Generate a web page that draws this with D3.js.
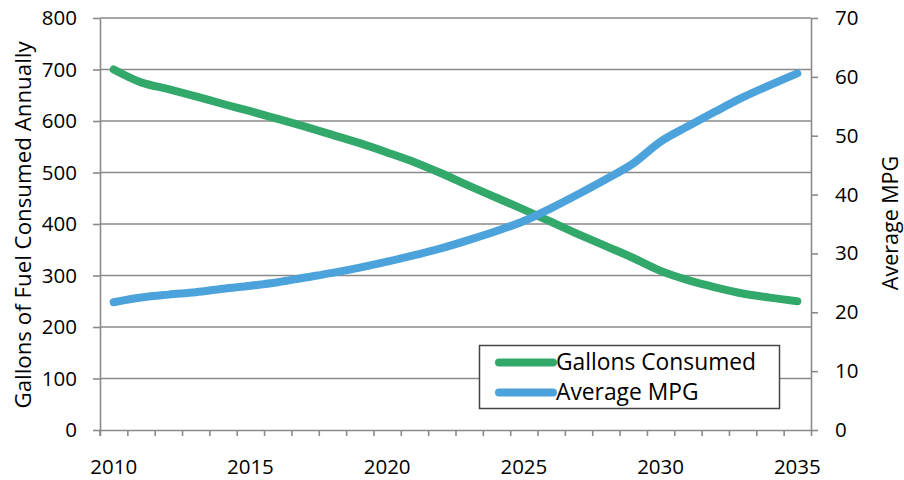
<!DOCTYPE html>
<html>
<head>
<meta charset="utf-8">
<script src="https://cdn.jsdelivr.net/npm/d3@7"></script>
<style>
  body { margin: 0; background: #fff; }
  svg { display: block; }
  text { font-family: "Open Sans", sans-serif; fill: #000; }
</style>
</head>
<body>
<svg id="chart" width="904" height="480"></svg>
<script>
// Fuel use vs. fleet fuel economy, 2010–2035
const years = [2010, 2011, 2012, 2013, 2014, 2015, 2016, 2017, 2018, 2019, 2020, 2021, 2022,
               2023, 2024, 2025, 2026, 2027, 2028, 2029, 2030, 2031, 2032, 2033, 2034, 2035];
const gallons = [700, 675, 662, 648, 633, 619, 604, 589, 573, 557, 539, 520, 498,
                 474, 451, 428, 404, 380, 357, 334, 309, 291, 277, 265, 257, 250];
const mpg = [21.7, 22.5, 23.0, 23.4, 24.0, 24.5, 25.1, 25.9, 26.7, 27.6, 28.6, 29.7, 30.9,
             32.3, 33.8, 35.5, 37.7, 40.1, 42.6, 45.3, 49.0, 51.6, 54.1, 56.5, 58.6, 60.6];
const gallonTicks = [0, 100, 200, 300, 400, 500, 600, 700, 800];
const mpgTicks = [0, 10, 20, 30, 40, 50, 60, 70];
const yearLabels = [2010, 2015, 2020, 2025, 2030, 2035];
const seriesNames = ["Gallons Consumed", "Average MPG"];
const seriesColors = ["#32a86b", "#4ca3db"];

const svg = d3.select("#chart");
const plot = { left: 100, right: 811, top: 18, bottom: 430 };
const axisColor = "#8a8a8a";

const x = d3.scaleBand().domain(years).range([plot.left, plot.right]);
const xEdge = d3.scaleLinear().domain([0, years.length]).range([plot.left, plot.right]);
const yL = d3.scaleLinear().domain([0, 800]).range([plot.bottom, plot.top]);
const yR = d3.scaleLinear().domain([0, 70]).range([plot.bottom, plot.top]);
const cx = d => x(d) + x.bandwidth() / 2;

// horizontal gridlines
svg.append("g")
  .selectAll("line")
  .data(gallonTicks.filter(v => v > 0))
  .join("line")
  .attr("x1", plot.left).attr("x2", plot.right)
  .attr("y1", d => yL(d)).attr("y2", d => yL(d))
  .attr("stroke", axisColor).attr("stroke-width", 1.6);

// left axis
const gLeft = svg.append("g")
  .attr("transform", `translate(${plot.left},0)`)
  .call(d3.axisLeft(yL).tickValues(gallonTicks).tickSize(7).tickSizeOuter(0).tickPadding(16));
// right axis
const gRight = svg.append("g")
  .attr("transform", `translate(${plot.right},0)`)
  .call(d3.axisRight(yR).tickValues(mpgTicks).tickSize(7).tickSizeOuter(0).tickPadding(17));
// bottom axis: tick marks between categories
const gBottom = svg.append("g")
  .attr("transform", `translate(0,${plot.bottom})`)
  .call(d3.axisBottom(xEdge).tickValues(d3.range(0, years.length + 1)).tickSize(6)
        .tickSizeOuter(0).tickFormat(""));

[gLeft, gRight, gBottom].forEach(g => {
  g.select(".domain").attr("stroke", axisColor).attr("stroke-width", 1.6);
  g.selectAll(".tick line").attr("stroke", axisColor).attr("stroke-width", 1.6);
  g.selectAll(".tick text").attr("font-size", 20.5).attr("font-family", "Open Sans").attr("fill", "#000");
});
// vertical axis lines reach down to the category tick marks
gLeft.append("line").attr("x1", 0).attr("x2", 0).attr("y1", plot.bottom).attr("y2", plot.bottom + 6)
  .attr("stroke", axisColor).attr("stroke-width", 1.6);

// year labels under category centres
svg.append("g")
  .selectAll("text")
  .data(yearLabels)
  .join("text")
  .attr("x", d => cx(d))
  .attr("y", 474)
  .attr("text-anchor", "middle")
  .attr("font-size", 20.5)
  .text(d => d);

// series lines
const lineG = d3.line().x((d, i) => cx(years[i])).y(d => yL(d)).curve(d3.curveCatmullRom.alpha(0));
const lineM = d3.line().x((d, i) => cx(years[i])).y(d => yR(d)).curve(d3.curveCatmullRom.alpha(0));

svg.append("path").attr("d", lineG(gallons))
  .attr("fill", "none").attr("stroke", seriesColors[0]).attr("stroke-width", 8)
  .attr("stroke-linecap", "round").attr("stroke-linejoin", "round");
svg.append("path").attr("d", lineM(mpg))
  .attr("fill", "none").attr("stroke", seriesColors[1]).attr("stroke-width", 8)
  .attr("stroke-linecap", "round").attr("stroke-linejoin", "round");

// axis titles
svg.append("text")
  .attr("transform", "translate(22,225) rotate(-90)")
  .attr("text-anchor", "middle").attr("dominant-baseline", "central")
  .attr("font-size", 22.3)
  .text("Gallons of Fuel Consumed Annually");
svg.append("text")
  .attr("transform", "translate(889,223) rotate(-90)")
  .attr("text-anchor", "middle").attr("dominant-baseline", "central")
  .attr("font-size", 21.5)
  .text("Average MPG");

// legend
const legend = svg.append("g");
legend.append("rect")
  .attr("x", 479.5).attr("y", 345.5).attr("width", 300).attr("height", 63)
  .attr("fill", "#fff").attr("stroke", "#454545").attr("stroke-width", 1.5);
const items = legend.selectAll("g.item")
  .data(seriesNames)
  .join("g").attr("class", "item")
  .attr("transform", (d, i) => `translate(0,${362.5 + i * 30})`);
items.append("line")
  .attr("x1", 499).attr("x2", 553).attr("y1", 0).attr("y2", 0)
  .attr("stroke", (d, i) => seriesColors[i]).attr("stroke-width", 8).attr("stroke-linecap", "round");
items.append("text")
  .attr("x", 556).attr("y", 7.8)
  .attr("font-size", 22.8)
  .text(d => d);
</script>
</body>
</html>
